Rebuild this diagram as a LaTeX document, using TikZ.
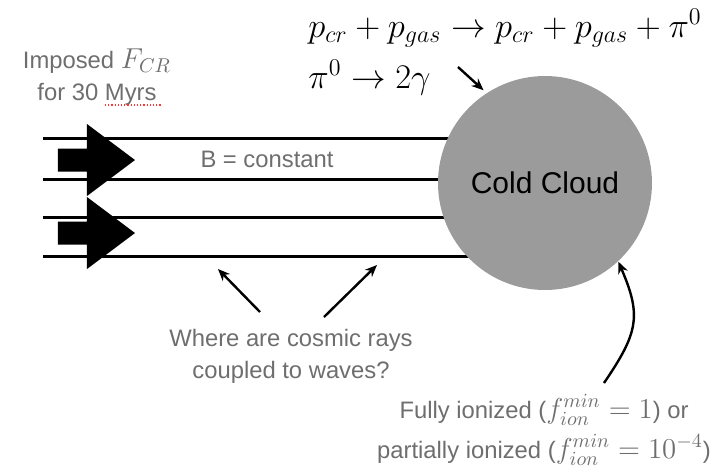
\documentclass[tikz,border=0pt]{standalone}
\usepackage{fontspec}
\setmainfont{Liberation Sans}
\usepackage{amsmath}
\usetikzlibrary{positioning,arrows.meta}
\definecolor{txtgray}{HTML}{6E6E6E}
\definecolor{cloudgray}{HTML}{9B9B9B}
\newcommand{\bigmath}[1]{{\fontsize{14}{16}\selectfont$#1$}}

\begin{document}
\begin{tikzpicture}[x=0.5pt,y=-0.5pt,>={Stealth[length=6pt,width=5pt]},
   font=\fontsize{11.9}{16}\selectfont,
   lbl/.style={text=txtgray,align=center,inner sep=0pt,anchor=base},
   eqn/.style={font=\fontsize{17}{20}\selectfont,inner sep=0pt,anchor=base west},
   field/.style={line width=1.5pt},
   ptr/.style={->,line width=1.2pt}]
  \useasboundingbox (0,0) rectangle (720,468);
  % field lines, the cloud goes on top of them
  \coordinate (cc) at (545,183);
  \foreach \yy/\nm in {138/f1,179/f2,217/f3,256/f4}{
    \coordinate (\nm) at (43,\yy);
    \draw[field] (\nm) -- (\nm -| cc);}
  \node[circle,fill=cloudgray,minimum size=107pt,inner sep=0pt,font=\fontsize{15}{18}\selectfont] (cloud) at (cc) {Cold Cloud};
  % imposed flux
  \foreach \yy in {160,233}
    \fill (58,\yy-11.5) rectangle (87,\yy+11.5) (87,\yy-36) -- (135,\yy) -- (87,\yy+36) -- cycle;
  \node[lbl] (flux) at (97,100) {Imposed \bigmath{F_{CR}}\\for 30 Myrs};
  \draw[red!80,densely dotted,line width=0.6pt] (105,105) -- (161,105);
  \node[lbl] (bfield) at (267,167) {B = constant};
  \node[eqn] (eq1) at (308,37) {$p_{cr}+p_{gas}\rightarrow p_{cr}+p_{gas}+\pi^0$};
  \node[eqn] (eq2) at (308,88) {$\pi^0\rightarrow 2\gamma$};
  \coordinate (g) at (458,67);
  \draw[ptr,shorten >=2pt] (g) -- (cloud.123);
  % coupling question
  \node[lbl] (waves) at (291,378) {Where are cosmic rays\\coupled to waves?};
  \coordinate (w1) at (260,312); \coordinate (gapL) at (218,269);
  \coordinate (w2) at (324,317); \coordinate (gapR) at (377,265);
  \draw[ptr] (w1) -- (gapL);
  \draw[ptr] (w2) -- (gapR);
  % ionization
  \node[lbl,font=\fontsize{11.9}{20}\selectfont] (ion) at (544,458) {Fully ionized (\bigmath{f^{min}_{ion}=1}) or\\partially ionized (\bigmath{f^{min}_{ion}=10^{-4}})};
  \coordinate (i0) at (604,383);
  \draw[ptr] (i0) .. controls (638,333) and (642,316) .. (cloud.-47);
\end{tikzpicture}
\end{document}
